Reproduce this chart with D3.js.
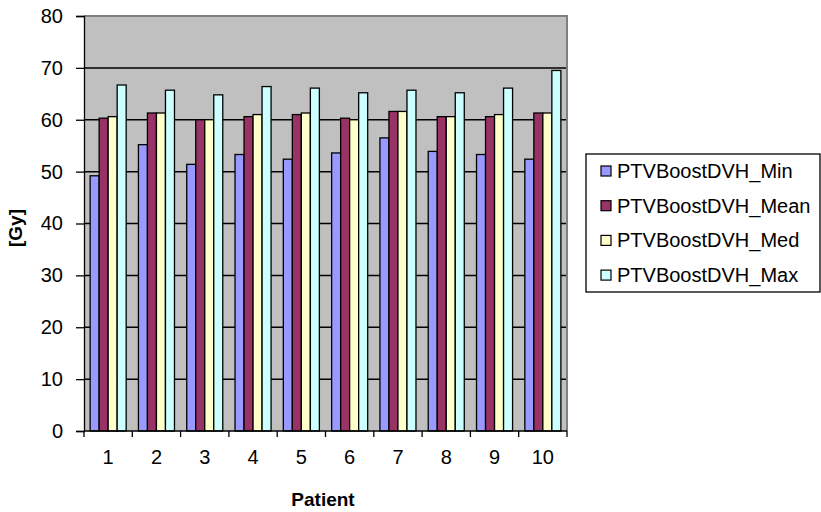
<!DOCTYPE html>
<html>
<head>
<meta charset="utf-8">
<script src="https://cdn.jsdelivr.net/npm/d3@7"></script>
<style>
  body { margin: 0; background: #fff; }
  svg text { font-family: Arial, "Liberation Sans", sans-serif; }
</style>
</head>
<body>
<svg id="chart" width="821" height="512"></svg>
<script>
// patients on the x axis
let patients = ["1","2","3","4","5","6","7","8","9","10"]
let seriesNames = ["PTVBoostDVH_Min","PTVBoostDVH_Mean","PTVBoostDVH_Med","PTVBoostDVH_Max"]
let seriesColors = ["#9999FF","#993366","#FFFFCC","#CCFFFF"]

// dose values in Gy
let minVals  = [49.2, 55.2, 51.4, 53.3, 52.4, 53.6, 56.5, 53.9, 53.3, 52.4]
let meanVals = [60.3, 61.3, 60.0, 60.6, 61.0, 60.3, 61.6, 60.6, 60.6, 61.3]
let medVals  = [60.6, 61.3, 60.0, 61.0, 61.3, 60.0, 61.6, 60.6, 61.0, 61.3]
let maxVals  = [66.7, 65.7, 64.8, 66.4, 66.1, 65.2, 65.7, 65.2, 66.1, 69.5]
let yTicks = [0,10,20,30,40,50,60,70,80]

let allSeries = [minVals, meanVals, medVals, maxVals]

var svg = d3.select("#chart")
// plot box (note: "top" is taken by window.top)
var pLeft = 84, pRight = 567, pTop = 16, pBottom = 431

var x = d3.scaleBand().domain(patients).range([pLeft, pRight]).paddingInner(0).paddingOuter(0)
var x1 = d3.scaleBand().domain(seriesNames).range([0, x.bandwidth()]).paddingInner(0).paddingOuter(0.68)
var y = d3.scaleLinear().domain([0, 80]).range([pBottom, pTop])

// plot background
svg.append("rect").attr("x", pLeft).attr("y", pTop).attr("width", pRight-pLeft).attr("height", pBottom-pTop).attr("fill", "#C0C0C0")

// gridlines
svg.selectAll(".grid").data(yTicks.filter(d => d > 0)).enter().append("line")
  .attr("x1", pLeft).attr("x2", pRight).attr("y1", d => y(d)).attr("y2", d => y(d))
  .attr("stroke", "#000").attr("stroke-width", 1.5)

// border top and right in gray
svg.append("path").attr("d", `M${pLeft},${pTop}H${pRight}V${pBottom}`).attr("fill", "none").attr("stroke", "#808080").attr("stroke-width", 2)

// bars
var groups = svg.selectAll(".grp").data(patients).enter().append("g")
  .attr("transform", d => `translate(${x(d)},0)`)
groups.selectAll("rect").data((p, i) => seriesNames.map((s, k) => ({s: s, v: allSeries[k][i], c: seriesColors[k]})))
  .enter().append("rect")
  .attr("x", d => x1(d.s)).attr("y", d => y(d.v))
  .attr("width", x1.bandwidth()).attr("height", d => y(0) - y(d.v))
  .attr("fill", d => d.c).attr("stroke", "#000").attr("stroke-width", 1.3)

// y axis
var yAxis = d3.axisLeft(y).tickValues(yTicks).tickSize(8).tickPadding(13)
var gy = svg.append("g").attr("transform", `translate(${pLeft},0)`).call(yAxis)
gy.selectAll("text").style("font-size", "20px").attr("fill", "#000")
gy.selectAll("line, path").attr("stroke", "#000").attr("stroke-width", 1.3)

// x axis, ticks between categories
var gx = svg.append("g").attr("transform", `translate(0,${pBottom})`)
gx.append("line").attr("x1", pLeft).attr("x2", pRight).attr("stroke", "#000").attr("stroke-width", 1.3)
gx.selectAll(".tk").data(d3.range(patients.length + 1)).enter().append("line")
  .attr("x1", i => pLeft + i*x.step()).attr("x2", i => pLeft + i*x.step())
  .attr("y1", 0).attr("y2", 6).attr("stroke", "#000").attr("stroke-width", 1.3)
gx.selectAll(".lbl").data(patients).enter().append("text")
  .attr("x", d => x(d) + x.bandwidth()/2).attr("y", 33)
  .attr("text-anchor", "middle").style("font-size", "20px").text(d => d)

// axis titles
svg.append("text").text("Patient").attr("x", 323).attr("y", 506).attr("text-anchor", "middle")
  .style("font-size", "19px").style("font-weight", "bold")
svg.append("text").text("[Gy]").attr("transform", "translate(22,228) rotate(-90)").attr("text-anchor", "middle")
  .style("font-size", "19px").style("font-weight", "bold")

// legend
var lg = svg.append("g").attr("transform", "translate(586,154)")
lg.append("rect").attr("x", 0).attr("y", 0).attr("width", 234).attr("height", 138).attr("fill", "#fff").attr("stroke", "#000").attr("stroke-width", 1.3)
var items = lg.selectAll(".item").data(seriesNames).enter().append("g")
  .attr("transform", (d, i) => `translate(0,${17 + i*34.7})`)
items.append("rect").attr("x", 15).attr("y", -5).attr("width", 10).attr("height", 10)
  .attr("fill", (d, i) => seriesColors[i]).attr("stroke", "#000").attr("stroke-width", 1.2)
items.append("text").attr("x", 31).attr("y", 7).style("font-size", "20px").text(d => d)
</script>
</body>
</html>
